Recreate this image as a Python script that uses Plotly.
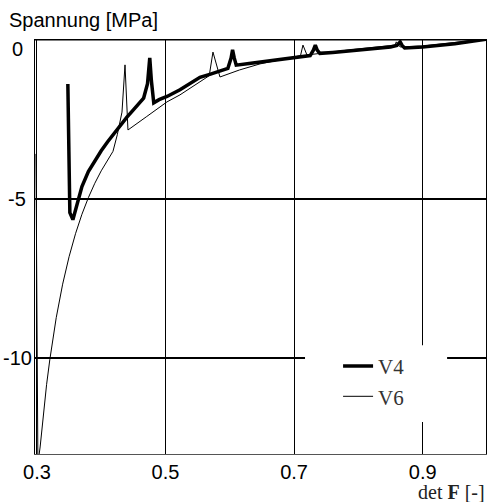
import plotly.graph_objects as go

# V4 (thick)
v4_x = [0.3481, 0.3497, 0.3512, 0.3559, 0.36, 0.3637, 0.37, 0.38, 0.39, 0.40,
        0.41, 0.42, 0.43, 0.44, 0.45, 0.46, 0.466, 0.472, 0.4755, 0.478,
        0.4817, 0.49, 0.5023, 0.5225, 0.5536, 0.57, 0.585, 0.597, 0.602, 0.6043,
        0.607, 0.61, 0.63, 0.648, 0.675, 0.702, 0.725, 0.73, 0.733, 0.736,
        0.74, 0.76, 0.783, 0.82, 0.85, 0.86, 0.865, 0.868, 0.872, 0.9,
        0.95, 1.0]
v4_y = [-1.41, -3.47, -5.44, -5.66, -5.35, -5.0, -4.62, -4.15, -3.8, -3.5,
        -3.22, -2.95, -2.7, -2.45, -2.22, -1.99, -1.85, -1.4, -0.59, -1.3,
        -2.0, -1.9, -1.8, -1.59, -1.2, -1.1, -1.0, -0.92, -0.6, -0.34,
        -0.6, -0.82, -0.77, -0.72, -0.65, -0.59, -0.52, -0.35, -0.19, -0.35,
        -0.45, -0.42, -0.38, -0.31, -0.25, -0.2, -0.09, -0.2, -0.28, -0.25,
        -0.15, 0.0]

# V6 (thin)
v6_x = [0.2985, 0.3015, 0.305, 0.31, 0.315, 0.32, 0.33, 0.34, 0.35, 0.36,
        0.37, 0.38, 0.39, 0.40, 0.41, 0.4183, 0.425, 0.4323, 0.437, 0.4416,
        0.47, 0.5023, 0.5225, 0.5536, 0.568, 0.5738, 0.5847, 0.615, 0.647, 0.7014,
        0.71, 0.7138, 0.72, 0.787, 0.857, 0.859, 0.865, 0.9, 0.95, 1.0]
v6_y = [-3.6, -13.3, -12.78, -11.74, -10.83, -10.05, -8.73, -7.68, -6.82, -6.10,
        -5.49, -4.97, -4.52, -4.13, -3.78, -3.52, -3.0, -2.29, -0.81, -2.85,
        -2.44, -1.97, -1.75, -1.35, -1.15, -0.41, -1.19, -0.97, -0.78, -0.56,
        -0.52, -0.19, -0.5, -0.34, -0.19, -0.09, -0.25, -0.22, -0.12, 0.0]

x_ticks = [0.3, 0.5, 0.7, 0.9]
x_ticktext = ["0.3", "0.5", "0.7", "0.9"]
y_ticks = [0, -5, -10]
y_ticktext = ["0", "-5", "-10"]

SANS = "Liberation Sans"
SERIF = "Liberation Serif"

fig = go.Figure()
fig.add_trace(go.Scatter(x=v4_x, y=v4_y, mode="lines", name="V4",
                         line=dict(color="black", width=3.5)))
fig.add_trace(go.Scatter(x=v6_x, y=v6_y, mode="lines", name="V6",
                         line=dict(color="black", width=1)))

annotations = []
for val, txt in zip(y_ticks, y_ticktext):
    annotations.append(dict(x=0, xref="paper", y=val, yref="y", text=txt,
                            showarrow=False, xanchor="center", yanchor="middle",
                            xshift=-18, yshift=(-10 if val == 0 else 0),
                            font=dict(family=SANS, size=20, color="black")))
annotations.append(dict(x=0, xref="paper", y=1, yref="paper", text="Spannung [MPa]",
                        showarrow=False, xanchor="left", yanchor="middle",
                        xshift=-28, yshift=19,
                        font=dict(family=SANS, size=20, color="black")))
annotations.append(dict(x=1, xref="paper", y=0, yref="paper", text="det <b>F</b> [-]",
                        showarrow=False, xanchor="right", yanchor="middle",
                        xshift=1, yshift=-38,
                        font=dict(family=SERIF, size=20, color="#222")))

fig.update_layout(
    width=487, height=502,
    margin=dict(l=35, r=1, t=39, b=48),
    paper_bgcolor="white", plot_bgcolor="white",
    showlegend=True,
    legend=dict(x=0.672, y=0.2606, xanchor="left", yanchor="top",
                bgcolor="rgba(0,0,0,0)", borderwidth=0,
                font=dict(family=SERIF, size=21, color="#333")),
    annotations=annotations,
    shapes=[
        dict(type="rect", xref="x", yref="y", x0=0.717, x1=0.938, y0=-12.0, y1=-9.59,
             fillcolor="white", line=dict(width=0), layer="between"),
        dict(type="line", xref="paper", yref="y", x0=0, x1=1, y0=0, y1=0,
             line=dict(color="black", width=3), layer="above"),
    ],
    xaxis=dict(range=[0.297, 0.9985], tickvals=x_ticks, ticktext=x_ticktext,
               showgrid=True, gridcolor="black", gridwidth=1,
               zeroline=False, showline=True, linecolor="#555", linewidth=1,
               ticks="", tickfont=dict(family=SANS, size=20, color="black")),
    yaxis=dict(range=[-13, 0], tickvals=[-10, -5], showticklabels=False,
               showgrid=True, gridcolor="black", gridwidth=1.5,
               zeroline=False, showline=True, mirror=True, linecolor="black", linewidth=1,
               ticks=""),
)

fig.write_html("out.html")
